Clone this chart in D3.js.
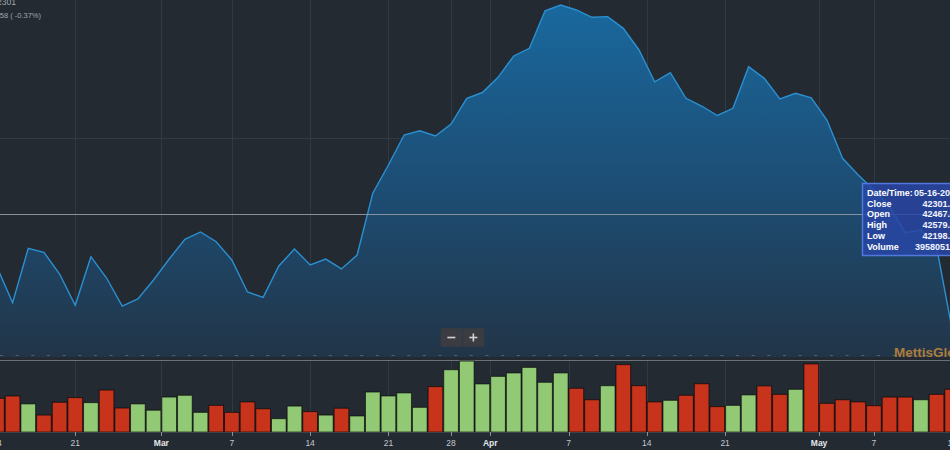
<!DOCTYPE html>
<html><head><meta charset="utf-8">
<script src="https://cdn.jsdelivr.net/npm/d3@7"></script>
<style>html,body{margin:0;padding:0;background:#232a32;overflow:hidden}svg{display:block}</style>
</head><body><svg id="c" width="950" height="450"></svg>
<script>
// ---- data (trading days, 2018) ----
const dates = ["2018-02-13","2018-02-14","2018-02-15","2018-02-16","2018-02-19","2018-02-20","2018-02-21","2018-02-22","2018-02-23","2018-02-26","2018-02-27","2018-02-28",
"2018-03-01","2018-03-02","2018-03-05","2018-03-06","2018-03-07","2018-03-08","2018-03-09","2018-03-12","2018-03-13","2018-03-14","2018-03-15","2018-03-16","2018-03-19","2018-03-20","2018-03-21","2018-03-22","2018-03-26","2018-03-27","2018-03-28","2018-03-29","2018-03-30",
"2018-04-02","2018-04-03","2018-04-04","2018-04-05","2018-04-06","2018-04-09","2018-04-10","2018-04-11","2018-04-12","2018-04-13","2018-04-16","2018-04-17","2018-04-18","2018-04-19","2018-04-20","2018-04-23","2018-04-24","2018-04-25","2018-04-26","2018-04-27","2018-04-30",
"2018-05-02","2018-05-03","2018-05-04","2018-05-07","2018-05-08","2018-05-09","2018-05-10","2018-05-11","2018-05-14","2018-05-15","2018-05-16"];
const closes = [42707,42511,42101,42726,42680,42431,42071,42630,42385,42063,42144,42362,
42603,42830,42914,42802,42592,42224,42163,42523,42718,42535,42603,42489,42649,43359,43684,44029,44078,44017,44155,44451,44517,
44692,44937,45025,45457,45523,45466,45382,45389,45255,45006,44641,44745,44451,44362,44253,44336,44814,44680,44443,44508,44457,
44201,43761,43569,43397,43205,42906,42937,42745,41787,42459,42301];
const volumes = [190,187,200,156,94,165,191,163,233,133,156,121,
194,204,109,148,109,167,129,74,144,113,94,132,89,222,200,217,137,252,346,394,267,
309,328,359,276,328,243,179,257,374,257,167,176,204,268,141,148,206,256,209,237,378,
159,179,167,146,194,194,179,209,237,200,396]; // millions of shares
const tickDates = ["2018-02-14","2018-02-21","2018-03-01","2018-03-07","2018-03-14","2018-03-21","2018-03-28","2018-04-01","2018-04-07","2018-04-14","2018-04-21","2018-05-01","2018-05-07","2018-05-14"];
const tickLabels = ["14","21","Mar","7","14","21","28","Apr","7","14","21","May","7","14"];
const legendLines = ["KSE100 42301","-158 ( -0.37%)"];
const tooltipLabels = ["Date/Time:","Close","Open","High","Low","Volume"];
const tooltipValues = ["05-16-2018","42301.17","42467.53","42579.81","42198.40","395805120"];

// ---- layout ----
const svg = d3.select("#c");
const FONT = "'Liberation Sans', Arial, sans-serif";
const mainBottom = 357, volTop = 360, volBottom = 432;
const x = d3.scaleLinear().domain([0, dates.length - 1]).range([12.6 - 2*15.66, 12.6 + 15.66*(dates.length - 3)]);
const y = d3.scaleLinear().domain([42000, 44000]).range([311.5, 137.5]);
const yv = d3.scaleLinear().domain([0, 400]).range([volBottom, volTop]);
const step = x(1) - x(0);

svg.append("rect").attr("width",950).attr("height",450).attr("fill","#232a32");

const parse = d3.timeParse("%Y-%m-%d");
function tickPos(ds){
  const d = parse(ds);
  const i = dates.findIndex(t => parse(t) >= d);
  const exact = dates[i] === ds;
  return (exact && d.getDate() !== 1) ? i : i - 0.5;
}
const ticks = tickDates.map((d,j)=>({pos:tickPos(d), label:tickLabels[j], month:parse(d).getDate()===1}));

// vertical grid
const grid = svg.append("g").attr("stroke","#313a44").attr("stroke-width",1);
ticks.forEach(t=>{
  const gx = Math.round(x(t.pos))+0.5;
  grid.append("line").attr("x1",gx).attr("x2",gx).attr("y1",0).attr("y2",mainBottom);
  grid.append("line").attr("x1",gx).attr("x2",gx).attr("y1",volTop).attr("y2",volBottom);
});
// horizontal grid (main pane)
const yTicks = d3.ticks(y.invert(mainBottom), y.invert(0), 2);
yTicks.forEach(v=>{
  const gy = Math.round(y(v))+0.5;
  grid.append("line").attr("x1",0).attr("x2",950).attr("y1",gy).attr("y2",gy);
});

// area gradient
const defs = svg.append("defs");
const grad = defs.append("linearGradient").attr("id","ag").attr("gradientUnits","userSpaceOnUse")
  .attr("x1",0).attr("y1",0).attr("x2",0).attr("y2",mainBottom);
grad.append("stop").attr("offset","0").attr("stop-color","#19699f");
grad.append("stop").attr("offset","0.55").attr("stop-color","#1d4c72");
grad.append("stop").attr("offset","1").attr("stop-color","#223548");

const area = d3.area().x((d,i)=>x(i)).y0(mainBottom).y1(d=>y(d));
svg.append("path").datum(closes).attr("d",area).attr("fill","url(#ag)");
const line = d3.line().x((d,i)=>x(i)).y(d=>y(d));
svg.append("path").datum(closes).attr("d",line).attr("fill","none").attr("stroke","#2a90d2").attr("stroke-width",1.4);

// dotted baseline & separator
svg.append("line").attr("x1",0).attr("x2",950).attr("y1",355.5).attr("y2",355.5)
  .attr("stroke","#56606b").attr("stroke-dasharray","3,12.66");
svg.append("line").attr("x1",0).attr("x2",950).attr("y1",360.5).attr("y2",360.5)
  .attr("stroke","#6a7178").attr("stroke-width",1);

// volume bars
svg.append("g").selectAll("rect").data(volumes).join("rect")
  .attr("x",(d,i)=>x(i)-step/2+0.5).attr("width",step-1)
  .attr("y",d=>yv(d)).attr("height",d=>volBottom-yv(d))
  .attr("fill",(d,i)=> i>0 && closes[i] >= closes[i-1] ? "#92c975" : "#c8341b")
  .attr("stroke","rgba(0,0,0,0.6)").attr("stroke-width",1);

// x axis
const ax = svg.append("g");
ax.append("line").attr("x1",0).attr("x2",950).attr("y1",volBottom+0.5).attr("y2",volBottom+0.5).attr("stroke","#3a434d");
ticks.forEach(t=>{
  const tx = Math.round(x(t.pos))+0.5;
  ax.append("line").attr("x1",tx).attr("x2",tx).attr("y1",volBottom).attr("y2",volBottom+4).attr("stroke","#8a9097");
  ax.append("text").attr("x",x(t.pos)).attr("y",446).attr("text-anchor","middle")
    .attr("font-family",FONT).attr("font-size",8.5).attr("font-weight",t.month?"bold":"normal")
    .attr("fill",t.month?"#e4e6e8":"#c3c7cb").text(t.label);
});

// crosshair
svg.append("line").attr("x1",0).attr("x2",950).attr("y1",214.5).attr("y2",214.5)
  .attr("stroke","#9aa2aa").attr("stroke-width",1).attr("opacity",0.85);

// zoom buttons
const zb = svg.append("g");
[[440.7,"-"],[462.7,"+"]].forEach(([bx,s])=>{
  zb.append("rect").attr("x",bx).attr("y",328.3).attr("width",21.3).attr("height",18.4).attr("fill","#3b3c41");
  const cx = bx+10.65, cy = 337.5;
  zb.append("line").attr("x1",cx-4).attr("x2",cx+4).attr("y1",cy).attr("y2",cy).attr("stroke","#d2d2d2").attr("stroke-width",1.6);
  if(s==="+") zb.append("line").attr("x1",cx).attr("x2",cx).attr("y1",cy-4).attr("y2",cy+4).attr("stroke","#d2d2d2").attr("stroke-width",1.6);
});

// watermark
svg.append("text").attr("x",894).attr("y",357).attr("font-family",FONT).attr("font-weight","bold")
  .attr("font-size",13.5).attr("fill","#bd843c").attr("opacity",0.9).text("MettisGlobal");

// legend text (top-left, partially cropped)
svg.append("text").attr("x",16).attr("y",4.5).attr("text-anchor","end").attr("font-family",FONT)
  .attr("font-size",8.5).attr("fill","#a0a6ac").text(legendLines[0]);
svg.append("text").attr("x",41).attr("y",18).attr("text-anchor","end").attr("font-family",FONT)
  .attr("font-size",7.5).attr("fill","#a0a6ac").text(legendLines[1]);

// tooltip
const tt = svg.append("g");
tt.append("rect").attr("x",862.5).attr("y",183.5).attr("width",118).attr("height",72)
  .attr("fill","#2846a6").attr("fill-opacity",0.85).attr("stroke","#5277dc").attr("stroke-width",1.5);
tooltipLabels.forEach((l,j)=>{
  const by = 195.8 + j*10.75;
  tt.append("text").attr("x",867).attr("y",by).attr("font-family",FONT).attr("font-weight","bold")
    .attr("font-size",9).attr("fill","#ffffff").text(l);
  tt.append("text").attr("x",960).attr("y",by).attr("text-anchor","end").attr("font-family",FONT)
    .attr("font-weight","bold").attr("font-size",9).attr("fill","#f2f4ff").text(tooltipValues[j]);
});
</script>
</body></html>
